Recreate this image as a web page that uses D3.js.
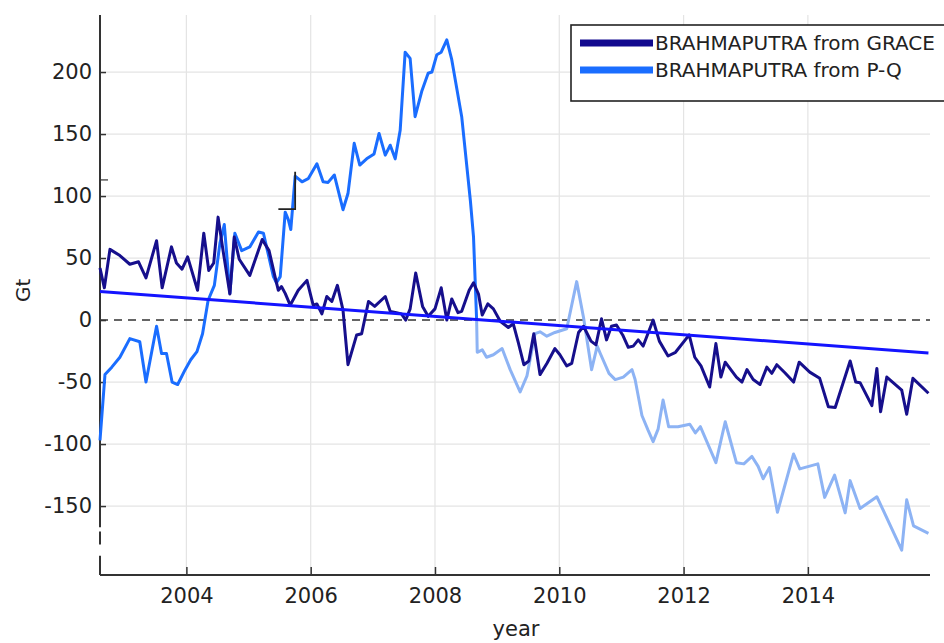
<!DOCTYPE html>
<html>
<head>
<meta charset="utf-8">
<script src="https://cdn.jsdelivr.net/npm/d3@7"></script>
<style>
  body { margin: 0; background: #fff; }
  svg { display: block; font-family: 'DejaVu Sans', sans-serif; }
</style>
</head>
<body>
<svg id="chart" width="944" height="643"></svg>
<script>
// Tick values
const xTicks = [2004, 2006, 2008, 2010, 2012, 2014];
const yTicks = [-150, -100, -50, 0, 50, 100, 150, 200];

// Brahmaputra storage anomaly from GRACE (Gt)
const graceYears = [2002.61, 2002.68, 2002.77, 2002.93, 2003.09, 2003.23, 2003.35, 2003.52, 2003.61, 2003.76,
  2003.84, 2003.93, 2004.02, 2004.18, 2004.28, 2004.36, 2004.44, 2004.51, 2004.59, 2004.70,
  2004.77, 2004.85, 2005.02, 2005.22, 2005.33, 2005.44, 2005.48, 2005.53, 2005.59, 2005.67,
  2005.80, 2005.94, 2006.04, 2006.10, 2006.18, 2006.26, 2006.34, 2006.43, 2006.52, 2006.60,
  2006.74, 2006.82, 2006.93, 2007.03, 2007.20, 2007.28, 2007.38, 2007.46, 2007.53, 2007.60,
  2007.69, 2007.80, 2007.89, 2008.00, 2008.10, 2008.19, 2008.27, 2008.37, 2008.43, 2008.55,
  2008.62, 2008.70, 2008.76, 2008.85, 2008.94, 2009.05, 2009.18, 2009.26, 2009.34, 2009.43,
  2009.51, 2009.59, 2009.69, 2009.80, 2009.93, 2010.01, 2010.12, 2010.20, 2010.31, 2010.39,
  2010.51, 2010.59, 2010.68, 2010.76, 2010.84, 2010.92, 2011.02, 2011.11, 2011.19, 2011.27,
  2011.35, 2011.51, 2011.61, 2011.75, 2011.87, 2012.09, 2012.18, 2012.28, 2012.42, 2012.52,
  2012.60, 2012.67, 2012.85, 2012.94, 2013.02, 2013.12, 2013.23, 2013.34, 2013.42, 2013.50,
  2013.63, 2013.77, 2013.86, 2014.03, 2014.19, 2014.33, 2014.44, 2014.68, 2014.77, 2014.84,
  2015.03, 2015.11, 2015.17, 2015.27, 2015.51, 2015.59, 2015.69, 2015.94];
const graceGt = [42, 26, 57, 52, 45, 47, 34, 64, 26, 59,
  46, 41, 51, 24, 70, 40, 46, 83, 56, 21,
  67, 49, 36, 65, 56, 32, 24, 27, 21.5, 12,
  24, 32, 12, 13, 5, 19, 15, 28, 8, -36,
  -12, -11, 15, 11, 19, 7, 6, 5, 0, 9,
  38, 11, 3, 9, 26, 0, 17, 6, 7, 24,
  30, 21, 4, 13, 9, -1, -6, -3, -18, -36,
  -33, -11, -44, -35, -23, -28, -37, -35, -10, -5,
  -17, -20, 1, -16, -5, -4, -12, -22, -21, -16,
  -21, 0, -17, -29, -26, -12, -30, -37, -54, -19,
  -46, -34, -46, -50, -40, -48, -52, -38, -43, -36,
  -42.5, -50, -34, -42, -47, -70, -70.5, -33, -50, -50.5,
  -69, -39, -74, -46, -56.5, -76, -47, -59];

// Brahmaputra storage from precipitation minus discharge (Gt), first period
const pqYears = [2002.61, 2002.69, 2002.80, 2002.93, 2003.09, 2003.25, 2003.35, 2003.52, 2003.60, 2003.68,
  2003.77, 2003.86, 2003.98, 2004.07, 2004.17, 2004.26, 2004.35, 2004.45, 2004.54, 2004.61,
  2004.70, 2004.78, 2004.89, 2005.02, 2005.16, 2005.24, 2005.29, 2005.40, 2005.45, 2005.51,
  2005.59, 2005.64, 2005.68, 2005.75, 2005.86, 2005.96, 2006.10, 2006.20, 2006.28, 2006.38,
  2006.52, 2006.60, 2006.70, 2006.79, 2006.90, 2007.02, 2007.10, 2007.20, 2007.28, 2007.36,
  2007.44, 2007.52, 2007.60, 2007.68, 2007.79, 2007.89, 2007.95, 2008.03, 2008.10, 2008.19,
  2008.27, 2008.43, 2008.57, 2008.62, 2008.65, 2008.67];
const pqGt = [-97, -44, -38, -30, -15, -17.5, -50, -5, -27, -27,
  -50, -52, -40, -32, -25.5, -11, 16, 28, 62, 77,
  21.5, 70, 56, 59, 71, 70, 59, 35, 30, 35,
  87, 81, 73, 116, 111.5, 114, 126, 111.5, 111, 117,
  89, 102, 142.5, 125, 130, 134, 150.5, 133, 141, 130,
  153, 216, 211, 164, 185, 199, 200, 214, 216, 226,
  210, 164, 96, 67, 27, 0];

// Same P-Q series, later period
const pqLateYears = [2008.67, 2008.68, 2008.76, 2008.83, 2008.94, 2009.08, 2009.21, 2009.37, 2009.48, 2009.61,
  2009.69, 2009.80, 2009.93, 2010.12, 2010.28, 2010.39, 2010.52, 2010.61, 2010.66, 2010.80,
  2010.90, 2011.03, 2011.17, 2011.22, 2011.33, 2011.43, 2011.51, 2011.59, 2011.67, 2011.76,
  2011.91, 2012.10, 2012.19, 2012.27, 2012.52, 2012.67, 2012.85, 2012.97, 2013.10, 2013.20,
  2013.28, 2013.38, 2013.51, 2013.77, 2013.87, 2014.16, 2014.27, 2014.43, 2014.60, 2014.68,
  2014.84, 2015.11, 2015.20, 2015.51, 2015.59, 2015.70, 2015.94];
const pqLateGt = [0, -26, -24, -30, -28, -23, -40, -58, -45, -11,
  -9.5, -13, -10, -7, 31, 2, -40, -21, -27, -43,
  -48, -46, -40, -48, -77, -89, -98, -88, -64.5, -86,
  -86, -84, -91, -86, -115, -82, -115, -116, -110, -118,
  -128, -119, -155, -108, -120, -116, -143, -125, -155.5, -129.5,
  -152, -142.5, -152, -185.5, -145, -166, -172];

// Linear trend of the GRACE series
const trendYears = [2002.61, 2015.94];
const trendGt = [23, -26.5];

// Stray marks left on the axes
const bracketYears = [2005.48, 2005.75, 2005.75];
const bracketGt = [89.5, 89.5, 119.6];

const svg = d3.select('#chart');
const plotLeft = 100, plotRight = 930, plotTop = 15, plotBottom = 575;
const tickFont = 21;

const x = d3.scaleLinear().domain([2002.61, 2015.965]).range([plotLeft, plotRight]);
const y = d3.scaleLinear().domain([-205.6, 246]).range([plotBottom, plotTop]);

const zip = (a, b) => a.map((v, i) => [v, b[i]]);
const line = d3.line().x(d => x(d[0])).y(d => y(d[1]));

// Grid
const grid = svg.append('g').attr('stroke', '#e4e4e4').attr('stroke-width', 1.2);
grid.selectAll('line.v').data(xTicks).join('line').attr('class', 'v')
  .attr('x1', d => x(d)).attr('x2', d => x(d))
  .attr('y1', plotTop).attr('y2', plotBottom);
grid.selectAll('line.h').data(yTicks.filter(t => t !== 0)).join('line').attr('class', 'h')
  .attr('x1', plotLeft).attr('x2', plotRight)
  .attr('y1', d => y(d)).attr('y2', d => y(d));

// Zero reference
svg.append('line')
  .attr('x1', plotLeft).attr('x2', plotRight)
  .attr('y1', y(0)).attr('y2', y(0))
  .attr('stroke', '#333').attr('stroke-width', 1.6)
  .attr('stroke-dasharray', '8,6');

// Axes (plain hyphen for negative labels)
const plain = d => String(d);
const xAxis = d3.axisBottom(x).tickValues(xTicks).tickFormat(plain).tickSize(-8).tickPadding(13);
const gx = svg.append('g').attr('transform', `translate(0,${plotBottom})`).call(xAxis);
gx.select('.domain').remove();
gx.selectAll('.tick line').attr('stroke', '#333').attr('stroke-width', 1.5);
gx.selectAll('.tick text').attr('font-size', tickFont).attr('fill', '#222')
  .attr('font-family', "'DejaVu Sans', sans-serif");

const yAxis = d3.axisLeft(y).tickValues(yTicks).tickFormat(plain).tickSize(-6).tickPadding(8);
const gy = svg.append('g').attr('transform', `translate(${plotLeft},0)`).call(yAxis);
gy.select('.domain').remove();
gy.selectAll('.tick line').attr('stroke', '#333').attr('stroke-width', 1.5);
gy.selectAll('.tick text').attr('font-size', tickFont).attr('fill', '#222')
  .attr('font-family', "'DejaVu Sans', sans-serif");

const seg = (x1, y1, x2, y2) => svg.append('line')
  .attr('x1', x1).attr('y1', y1).attr('x2', x2).attr('y2', y2)
  .attr('stroke', '#333').attr('stroke-width', 2);
// bottom axis line
seg(plotLeft, plotBottom, plotRight, plotBottom);
// left axis line, broken near the lower end
seg(plotLeft, plotTop, plotLeft, y(-167));
seg(plotLeft, y(-170.5), plotLeft, y(-181));
seg(plotLeft, y(-190), plotLeft, plotBottom);
// extra short tick on the left axis
seg(plotLeft, y(113), plotLeft + 8, y(113)).attr('stroke-width', 1.2);

// Data lines
const lw = 3;
svg.append('path').datum(zip(pqLateYears, pqLateGt))
  .attr('fill', 'none').attr('stroke', '#8db3f4').attr('stroke-width', lw)
  .attr('stroke-linejoin', 'round').attr('d', line);
svg.append('path').datum(zip(pqYears, pqGt))
  .attr('fill', 'none').attr('stroke', '#1a6dff').attr('stroke-width', lw)
  .attr('stroke-linejoin', 'round').attr('d', line);
svg.append('path').datum(zip(graceYears, graceGt))
  .attr('fill', 'none').attr('stroke', '#160f8c').attr('stroke-width', lw)
  .attr('stroke-linejoin', 'round').attr('d', line);
svg.append('path').datum(zip(trendYears, trendGt))
  .attr('fill', 'none').attr('stroke', '#1414ff').attr('stroke-width', lw)
  .attr('d', line);

// Small bracket mark
svg.append('path').datum(zip(bracketYears, bracketGt))
  .attr('fill', 'none').attr('stroke', '#222').attr('stroke-width', 1.8)
  .attr('d', line);

// Axis labels
svg.append('text').attr('x', 516).attr('y', 636).attr('text-anchor', 'middle')
  .attr('font-size', 21).attr('fill', '#222').text('year');
svg.append('text').attr('transform', `translate(30,${y(24)}) rotate(-90)`)
  .attr('text-anchor', 'middle').attr('font-size', 20).attr('fill', '#222').text('Gt');

// Legend
const legendItems = [
  { label: 'BRAHMAPUTRA from GRACE', color: '#120a8f' },
  { label: 'BRAHMAPUTRA from P-Q', color: '#1a6dff' }
];
const lg = svg.append('g');
lg.append('rect').attr('x', 571).attr('y', 25).attr('width', 380).attr('height', 76)
  .attr('fill', '#fff').attr('stroke', '#222').attr('stroke-width', 1.6);
legendItems.forEach((it, i) => {
  const cy = 43 + i * 27;
  lg.append('line').attr('x1', 580).attr('x2', 653).attr('y1', cy).attr('y2', cy)
    .attr('stroke', it.color).attr('stroke-width', 7);
  lg.append('text').attr('x', 655).attr('y', cy + 7).attr('font-size', 20)
    .attr('fill', '#222').text(it.label);
});
</script>
</body>
</html>
